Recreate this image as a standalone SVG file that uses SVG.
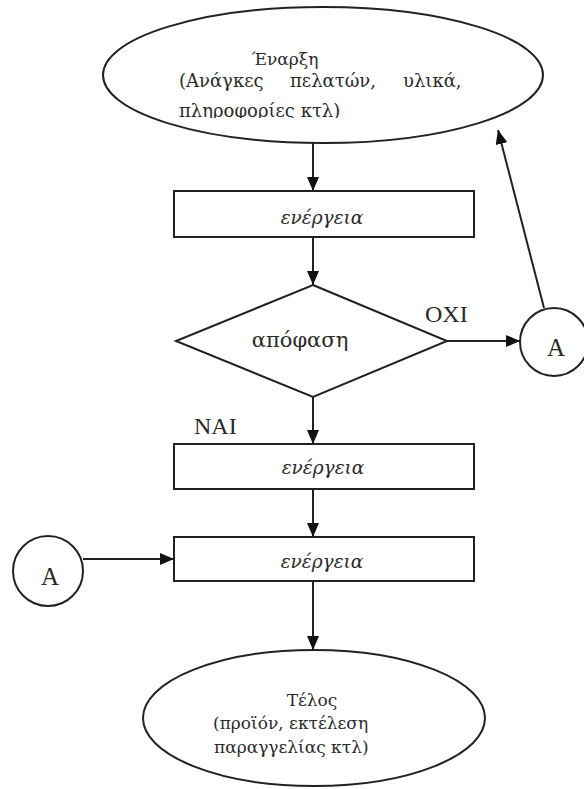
<svg xmlns="http://www.w3.org/2000/svg" width="584" height="789" viewBox="0 0 584 789" font-family="'Liberation Serif', 'Times New Roman', 'DejaVu Serif', serif">
  <style>
    .shape { fill: #fff; stroke: #222; stroke-width: 2; }
    .edge { fill: none; stroke: #222; stroke-width: 2; }
    text { fill: #2a2a2a; }
    .gr { font-family: "DejaVu Serif", "Liberation Serif", serif; }
    .big { font-size: 17px; }
    .mid { font-size: 18px; }
    .act { font-size: 18.5px; font-style: italic; text-anchor: middle; }
    .lbl { font-size: 24px; }
    .conn { font-size: 25px; text-anchor: middle; }
  </style>
  <defs>
    <marker id="arrow" viewBox="0 0 14 12" refX="14" refY="6" markerWidth="14" markerHeight="12" markerUnits="userSpaceOnUse" orient="auto">
      <path d="M0,0 L14,6 L0,12 Z" fill="#111"/>
    </marker>
    <clipPath id="startClip">
      <rect x="100" y="0" width="450" height="118"/>
    </clipPath>
  </defs>

  <rect width="584" height="789" fill="#fff"/>

  <g id="connectors">
    <line class="edge" x1="313" y1="143" x2="313" y2="191" marker-end="url(#arrow)"/>
    <line class="edge" x1="313" y1="237" x2="313" y2="285" marker-end="url(#arrow)"/>
    <line class="edge" x1="447" y1="341" x2="520" y2="341" marker-end="url(#arrow)"/>
    <line class="edge" x1="544" y1="308" x2="498" y2="130" marker-end="url(#arrow)"/>
    <line class="edge" x1="313" y1="397" x2="313" y2="444" marker-end="url(#arrow)"/>
    <line class="edge" x1="313" y1="489" x2="313" y2="537" marker-end="url(#arrow)"/>
    <line class="edge" x1="83" y1="559" x2="174" y2="559" marker-end="url(#arrow)"/>
    <line class="edge" x1="313" y1="581" x2="313" y2="650" marker-end="url(#arrow)"/>
    <text class="lbl" x="425" y="322">OXI</text>
    <text class="lbl" x="194" y="434">NAI</text>
  </g>

  <g id="start">
    <ellipse class="shape" cx="323" cy="75" rx="220" ry="68"/>
    <text class="big gr" x="285" y="65" text-anchor="middle">Έναρξη</text>
    <text class="mid gr" y="87"><tspan x="179">(Ανάγκες</tspan> <tspan x="290">πελατών,</tspan> <tspan x="403">υλικά,</tspan></text>
    <text class="mid gr" x="179" y="117" clip-path="url(#startClip)">πληροφορίες κτλ)</text>
  </g>

  <g id="action1">
    <rect class="shape" x="174" y="191" width="300" height="46"/>
    <text class="act gr" x="322" y="224">ενέργεια</text>
  </g>

  <g id="decision">
    <polygon class="shape" points="313,285 447,341 313,397 176,341"/>
    <text class="gr" x="300" y="347" font-size="21" text-anchor="middle">απόφαση</text>
  </g>

  <g id="connectorA-right">
    <circle class="shape" cx="554" cy="342" r="34"/>
    <text class="conn" x="556" y="356">A</text>
  </g>

  <g id="action2">
    <rect class="shape" x="174" y="444" width="300" height="45"/>
    <text class="act gr" x="323" y="474">ενέργεια</text>
  </g>

  <g id="action3">
    <rect class="shape" x="174" y="537" width="300" height="44"/>
    <text class="act gr" x="322" y="568">ενέργεια</text>
  </g>

  <g id="connectorA-left">
    <circle class="shape" cx="48" cy="571" r="35"/>
    <text class="conn" x="50" y="585">A</text>
  </g>

  <g id="end">
    <ellipse class="shape" cx="314" cy="718" rx="171" ry="68"/>
    <text class="big gr" x="312" y="706" text-anchor="middle">Τέλος</text>
    <text class="big gr" x="213" y="729">(προϊόν, εκτέλεση</text>
    <text class="big gr" x="214" y="753">παραγγελίας κτλ)</text>
  </g>
</svg>
